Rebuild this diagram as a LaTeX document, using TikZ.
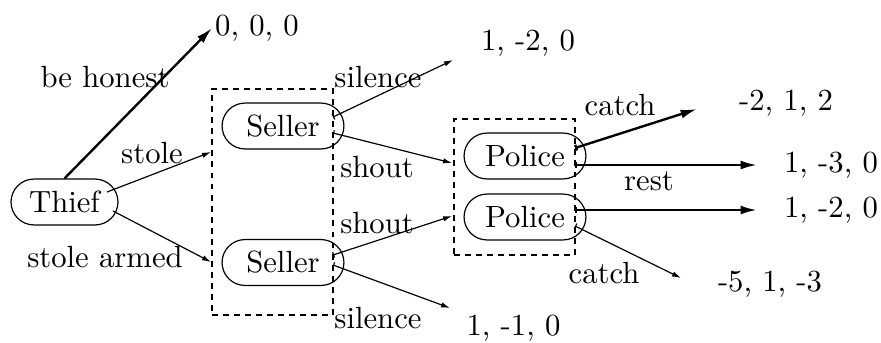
\documentclass[tikz,border=0pt]{standalone}
\usetikzlibrary{arrows.meta}
\begin{document}
\begin{tikzpicture}[x=0.3356pt,y=-0.3356pt,
  every node/.style={font=\fontsize{10.3}{12}\selectfont},
  player/.style={draw, line width=0.4pt, rounded corners=7.7pt, minimum height=15.4pt, inner sep=0pt},
  infoset/.style={draw, line width=0.5pt, dash pattern=on 2pt off 1.7pt, inner sep=0pt},
  lbl/.style={inner sep=0pt},
  thinarr/.style={line width=0.4pt, -{Latex[length=3pt,width=1.8pt]}},
  barthin/.style={line width=0.4pt, {Bar[width=2pt]}-{Latex[length=3pt,width=1.8pt]}},
  thickarr/.style={line width=0.8pt, -{Latex[length=5.5pt,width=3pt]}},
  barthick/.style={line width=0.8pt, {Bar[width=2pt]}-{Latex[length=5.5pt,width=3pt]}}
]
\path[use as bounding box] (0,0) rectangle (881,342);

% information sets
\node[infoset, minimum width=40.6pt, minimum height=75.8pt] (sbox) at (272.5,202) {};
\node[infoset, minimum width=40.6pt, minimum height=45.6pt] (pbox) at (514.5,187) {};

% players
\node[player, minimum width=35.9pt] (thief) at (64.5,202) {Thief};
\node[player, minimum width=40.9pt] (seller1) at (283,126) {Seller};
\node[player, minimum width=40.9pt] (seller2) at (283,262.5) {Seller};
\node[player, minimum width=40.9pt] (police1) at (525,156) {Police};
\node[player, minimum width=40.9pt] (police2) at (525,217) {Police};

% payoffs
\node[lbl] (p000) at (257,28) {0, 0, 0};
\node[lbl] (p120) at (528,43) {1, -2, 0};
\node[lbl] (p212) at (786,103) {-2, 1, 2};
\node[lbl] (p130) at (831,165) {1, -3, 0};
\node[lbl] (p1202) at (831,210) {1, -2, 0};
\node[lbl] (p513) at (770,284) {-5, 1, -3};
\node[lbl] (p110) at (513.5,328) {1, -1, 0};

% action labels
\node[lbl] (lhonest) at (105,77) {be honest};
\node[lbl] (lstole) at (152,153) {stole};
\node[lbl] (larmed) at (105,257) {stole armed};
\node[lbl] (lsil1) at (378,77) {silence};
\node[lbl] (lsh1) at (377,167) {shout};
\node[lbl] (lsh2) at (377,223) {shout};
\node[lbl] (lsil2) at (378,318) {silence};
\node[lbl] (lcatch1) at (620,105) {catch};
\node[lbl] (lrest) at (649,181) {rest};
\node[lbl] (lcatch2) at (604,273) {catch};

% connector end points
\coordinate (t1) at (107,192);
\coordinate (t2) at (113,211);
\coordinate (e0) at (212,28);
\coordinate (e1) at (211,152);
\coordinate (e2) at (211,262);
\coordinate (s1a) at (333,117);
\coordinate (s1b) at (333,133);
\coordinate (s2a) at (333,255);
\coordinate (s2b) at (333,265);
\coordinate (e3) at (453,60);
\coordinate (e4) at (452,163);
\coordinate (e5) at (452,216);
\coordinate (e6) at (450,308);
\coordinate (q1a) at (575,148);
\coordinate (q1b) at (575,165);
\coordinate (q2a) at (575,210);
\coordinate (q2b) at (575,226);
\coordinate (e7) at (697,109);
\coordinate (e8) at (757,165);
\coordinate (e9) at (757,210);
\coordinate (e10) at (681,278);

% connectors
\draw[thickarr] (thief.north) -- (e0);
\draw[thinarr] (t1) -- (e1);
\draw[thinarr] (t2) -- (e2);
\draw[barthin] (s1a) -- (e3);
\draw[barthin] (s1b) -- (e4);
\draw[barthin] (s2a) -- (e5);
\draw[barthin] (s2b) -- (e6);
\draw[barthick] (q1a) -- (e7);
\draw[barthick] (q1b) -- (e8);
\draw[barthick] (q2a) -- (e9);
\draw[barthin] (q2b) -- (e10);
\end{tikzpicture}
\end{document}
